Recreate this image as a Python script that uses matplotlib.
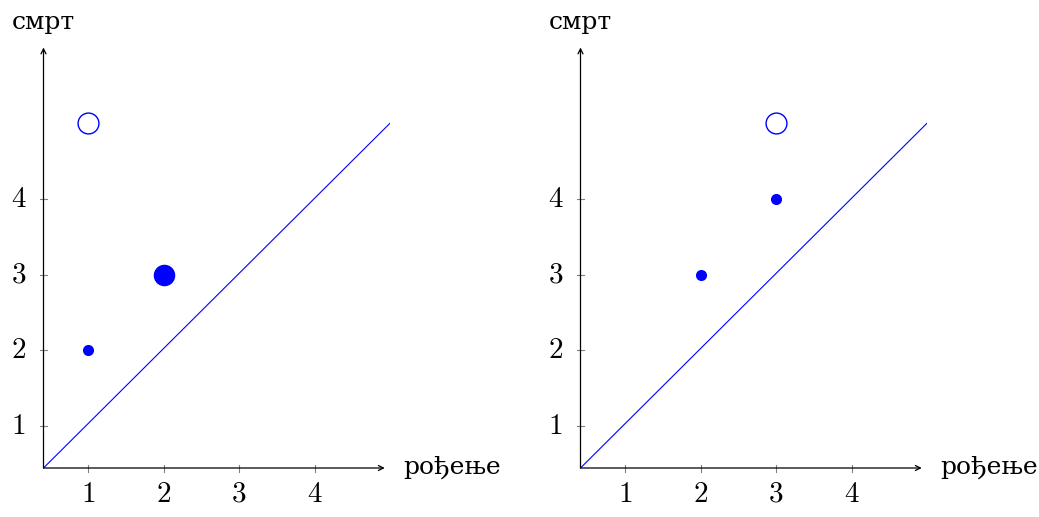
import matplotlib
matplotlib.use("Agg")
import matplotlib.pyplot as plt

plt.rcParams['mathtext.fontset'] = 'cm'

# persistence diagrams: (birth, death) points
TICKS = [1, 2, 3, 4]
LEFT_SMALL = [(1, 2)]
LEFT_BIG = [(2, 3)]
LEFT_INF = [(1, 5)]
RIGHT_SMALL = [(2, 3), (3, 4)]
RIGHT_BIG = []
RIGHT_INF = [(3, 5)]
XLABEL = "рођење"
YLABEL = "смрт"

W, H = 1039, 517
XMIN, XMAX = 0.41, 5.0
YMIN, YMAX = 0.445, 6.1
UX, UY = 75.5, 75.7

fig = plt.figure(figsize=(W / 100, H / 100), dpi=100)


def panel(x0_px, small, big, inf):
    w = (XMAX - XMIN) * UX
    h = (YMAX - YMIN) * UY
    ax = fig.add_axes([x0_px / W, (H - 468) / H, w / W, h / H])
    ax.set_xlim(XMIN, XMAX)
    ax.set_ylim(YMIN, YMAX)
    ax.axis('off')

    # axes with arrows
    ax.annotate("", xy=(4.93, YMIN), xytext=(XMIN, YMIN),
                arrowprops=dict(arrowstyle='->', lw=0.9, color='black',
                                shrinkA=0, shrinkB=0, mutation_scale=9))
    ax.annotate("", xy=(XMIN, 6.0), xytext=(XMIN, YMIN),
                arrowprops=dict(arrowstyle='->', lw=0.9, color='black',
                                shrinkA=0, shrinkB=0, mutation_scale=9))

    # tick marks and labels
    dx = 3.5 / UX
    dy = 3.5 / UY
    for t in TICKS:
        ax.plot([t, t], [YMIN - dy, YMIN + dy], color='#808080', lw=0.8, clip_on=False)
        ax.text(t, YMIN - 26 / UY, f"${t}$", ha='center', va='center', fontsize=21)
        ax.plot([XMIN - dx, XMIN + dx], [t, t], color='#808080', lw=0.8, clip_on=False)
        ax.text(XMIN - 25 / UX, t, f"${t}$", ha='center', va='center', fontsize=21)

    # diagonal
    ax.plot([XMIN, 5], [YMIN, 5], color='blue', lw=0.8)

    for x, y in small:
        ax.plot(x, y, 'o', color='blue', markersize=8, markeredgewidth=0)
    for x, y in big:
        ax.plot(x, y, 'o', color='blue', markersize=15.5, markeredgewidth=0)
    for x, y in inf:
        ax.plot(x, y, 'o', markerfacecolor='white', markeredgecolor='blue',
                markersize=15, markeredgewidth=1.0)

    ax.text(5.17, YMIN, XLABEL, ha='left', va='center', fontsize=18,
            family='DejaVu Serif', clip_on=False)
    ax.text(XMIN, 6.33, YLABEL, ha='center', va='center', fontsize=18,
            family='DejaVu Serif', clip_on=False)
    return ax


panel(43.5, LEFT_SMALL, LEFT_BIG, LEFT_INF)
panel(580.5, RIGHT_SMALL, RIGHT_BIG, RIGHT_INF)

fig.savefig("out.png", dpi=100)
